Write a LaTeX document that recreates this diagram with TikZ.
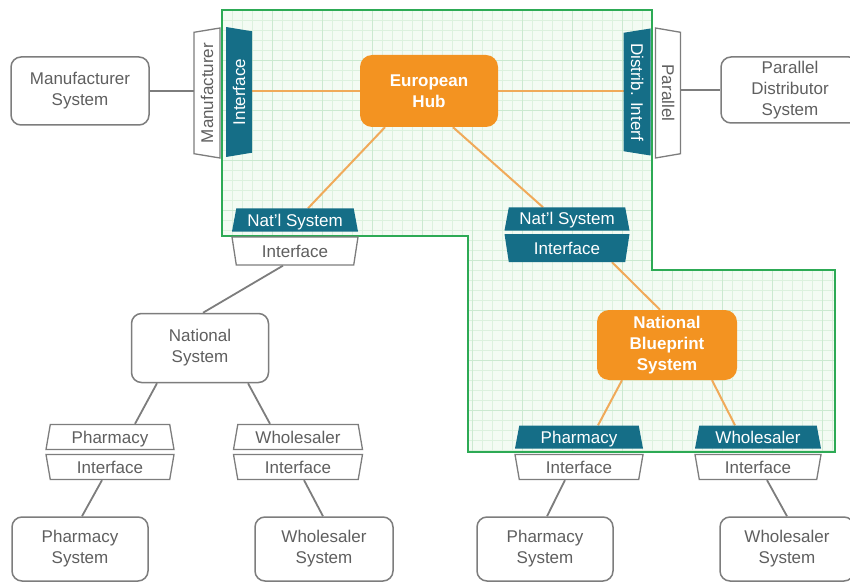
\documentclass[tikz,border=0pt]{standalone}
\usepackage{fontspec}
\setmainfont{Liberation Sans}
\usetikzlibrary{shapes.geometric}

\definecolor{tealbox}{RGB}{21,110,135}
\definecolor{hubor}{RGB}{243,147,33}
\definecolor{hubline}{RGB}{240,170,90}
\definecolor{greyline}{RGB}{125,125,125}
\definecolor{greytext}{RGB}{95,95,95}
\definecolor{gridfill}{RGB}{243,251,243}
\definecolor{gridminor}{RGB}{220,241,222}
\definecolor{gridmajor}{RGB}{203,233,208}
\definecolor{zoneline}{RGB}{45,170,85}

\pgfdeclarelayer{grid}
\pgfdeclarelayer{edges}
\pgfsetlayers{grid,edges,main}

\tikzset{
  sysbox/.style={draw=greyline, line width=1.5pt, rounded corners=10pt, fill=white,
    text=greytext, align=center, inner sep=0pt},
  hubbox/.style={fill=hubor, rounded corners=12pt, text=white, align=center,
    font=\fontsize{17}{21}\selectfont\bfseries, inner sep=0pt},
  tabwide/.style={trapezium, trapezium left angle=75, trapezium right angle=75,
    trapezium stretches body, inner sep=0pt, text height=14pt, text depth=2pt},
  tabnarrow/.style={trapezium, trapezium left angle=105, trapezium right angle=105,
    trapezium stretches body, inner sep=0pt, text height=14pt, text depth=2pt},
  plainif/.style={fill=white, draw=greyline, line width=1.3pt, text=greytext},
  tealif/.style={fill=tealbox, text=white},
  greyconn/.style={draw=greyline, line width=1.8pt},
  orconn/.style={draw=hubline, line width=2pt},
}

\begin{document}
\begin{tikzpicture}[x=1pt, y=-1pt, font=\fontsize{17}{21}\selectfont]
\useasboundingbox (0,0) rectangle (850,585);

% shaded zone with its grid
\begin{pgfonlayer}{grid}
  \fill[gridfill] (222,10) -- (652,10) -- (652,270) -- (835,270) -- (835,452)
    -- (468,452) -- (468,236) -- (222,236) -- cycle;
  \begin{scope}
    \clip (222,10) -- (652,10) -- (652,270) -- (835,270) -- (835,452)
      -- (468,452) -- (468,236) -- (222,236) -- cycle;
    \foreach \x in {222,232,...,842} \draw[gridminor, line width=0.6pt] (\x,0) -- (\x,460);
    \foreach \y in {10,20,...,460} \draw[gridminor, line width=0.6pt] (215,\y) -- (845,\y);
    \foreach \x in {222,272,...,842} \draw[gridmajor, line width=0.9pt] (\x,0) -- (\x,460);
    \foreach \y in {10,60,...,460} \draw[gridmajor, line width=0.9pt] (215,\y) -- (845,\y);
  \end{scope}
\end{pgfonlayer}

% systems
\node[sysbox, minimum width=138pt, minimum height=68pt] (mfsys) at (80,91) {Manufacturer\\System};
\node[sysbox, minimum width=138pt, minimum height=66pt] (pdsys) at (790,90) {Parallel\\Distributor\\System};
\node[sysbox, minimum width=137pt, minimum height=69pt] (ns) at (200,348) {National\\System};
\node[sysbox, minimum width=136pt, minimum height=64pt] (lphsys) at (80,549) {Pharmacy\\System};
\node[sysbox, minimum width=138pt, minimum height=64pt] (lwhsys) at (324,549) {Wholesaler\\System};
\node[sysbox, minimum width=136pt, minimum height=64pt] (rphsys) at (545,549) {Pharmacy\\System};
\node[sysbox, minimum width=134pt, minimum height=64pt] (rwhsys) at (787,549) {Wholesaler\\System};

% hubs
\node[hubbox, minimum width=138pt, minimum height=72pt] (hub) at (429,91) {European\\Hub};
\node[hubbox, minimum width=140pt, minimum height=70pt] (nb) at (667,345) {National\\Blueprint\\System};

% vertical interface tabs
\node[tabwide, plainif, rotate=90, minimum width=130pt, minimum height=26pt] (mftab) at (207,93) {Manufacturer};
\node[tabnarrow, tealif, rotate=90, minimum width=130pt, minimum height=26pt] (iftab) at (239,92) {Interface};
\node[tabnarrow, tealif, rotate=-90, minimum width=127pt, minimum height=27pt] (dtab) at (637,92) {Distrib. Interf};
\node[tabwide, plainif, rotate=-90, minimum width=130pt, minimum height=25pt] (ptab) at (668,93) {Parallel};

% horizontal interface pairs
\node[tabwide, tealif, minimum width=126pt, minimum height=23pt] (lnatl) at (295,220) {Nat'l System};
\node[tabnarrow, plainif, minimum width=126pt, minimum height=28pt] (lif) at (295,251) {Interface};
\node[tabwide, tealif, minimum width=125pt, minimum height=23pt] (rnatl) at (567,219) {Nat'l System};
\node[tabnarrow, tealif, minimum width=125pt, minimum height=28pt] (rif) at (567,248) {Interface};

\node[tabwide, plainif, minimum width=128pt, minimum height=25pt] (lph) at (110,437) {Pharmacy};
\node[tabnarrow, plainif, minimum width=128pt, minimum height=25pt] (lphif) at (110,467) {Interface};
\node[tabwide, plainif, minimum width=129pt, minimum height=25pt] (lwh) at (298,437) {Wholesaler};
\node[tabnarrow, plainif, minimum width=129pt, minimum height=25pt] (lwhif) at (298,467) {Interface};

\node[tabwide, tealif, minimum width=128pt, minimum height=23pt] (rph) at (579,437) {Pharmacy};
\node[tabnarrow, plainif, minimum width=128pt, minimum height=25pt] (rphif) at (579,467) {Interface};
\node[tabwide, tealif, minimum width=126pt, minimum height=23pt] (rwh) at (758,437) {Wholesaler};
\node[tabnarrow, plainif, minimum width=126pt, minimum height=25pt] (rwhif) at (758,467) {Interface};

% connectors, kept beneath the boxes
\begin{pgfonlayer}{edges}
  \draw[zoneline, line width=2.4pt] (222,10) -- (652,10) -- (652,270) -- (835,270) -- (835,452)
    -- (468,452) -- (468,236) -- (222,236) -- cycle;

  \draw[greyconn] (mfsys.east) -- (mftab.center |- mfsys.east);
  \draw[greyconn] (ptab.center |- pdsys.west) -- (pdsys.west);
  \draw[orconn] (iftab.center |- hub.west) -- (hub.west);
  \draw[orconn] (hub.east) -- (dtab.center |- hub.east);
  \draw[orconn] ([xshift=-44pt]hub.south) -- ([xshift=13pt]lnatl.north);
  \draw[orconn] ([xshift=24pt]hub.south) -- ([xshift=-24pt]rnatl.north);
  \draw[orconn] ([xshift=45pt]rif.south) -- ([xshift=-7pt]nb.north);
  \draw[orconn] ([xshift=-45pt]nb.south) -- ([xshift=19pt]rph.north);
  \draw[orconn] ([xshift=45pt]nb.south) -- ([xshift=-23pt]rwh.north);

  \draw[greyconn] ([xshift=-12pt]lif.south) -- ([xshift=3pt]ns.north);
  \draw[greyconn] ([xshift=-43pt]ns.south) -- ([xshift=25pt]lph.north);
  \draw[greyconn] ([xshift=48pt]ns.south) -- ([xshift=-28pt]lwh.north);
  \draw[greyconn] ([xshift=-8pt]lphif.south) -- ([xshift=2pt]lphsys.north);
  \draw[greyconn] ([xshift=6pt]lwhif.south) -- ([xshift=-1pt]lwhsys.north);
  \draw[greyconn] ([xshift=-14pt]rphif.south) -- ([xshift=2pt]rphsys.north);
  \draw[greyconn] ([xshift=9pt]rwhif.south) -- ([xshift=0pt]rwhsys.north);
\end{pgfonlayer}
\end{tikzpicture}
\end{document}
